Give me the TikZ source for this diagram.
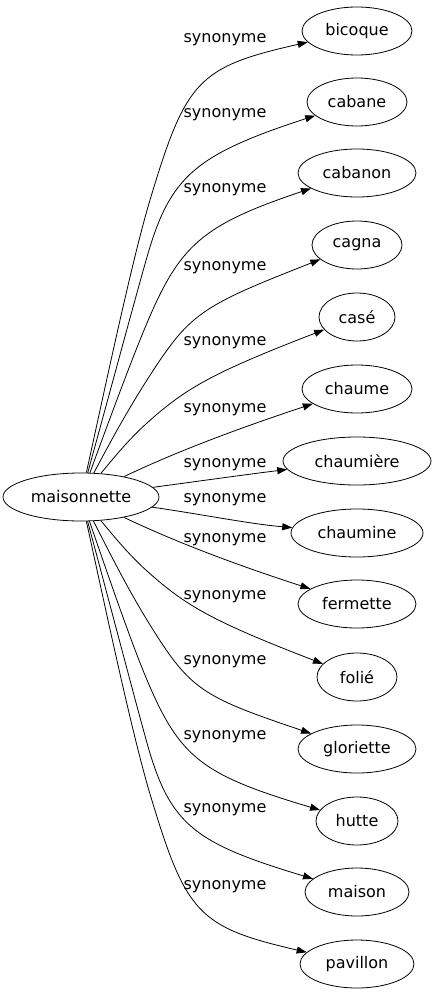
\documentclass[tikz,border=0pt]{standalone}
\usepackage{fontspec}
\setmainfont{DejaVu Sans}
\usetikzlibrary{shapes.geometric,arrows.meta}
\begin{document}
\begin{tikzpicture}[x=1pt,y=-1pt,
  word/.style={draw,ellipse,inner sep=0pt,minimum height=48pt,line width=0.8pt,font=\fontsize{16}{19}\selectfont},
  lab/.style={inner sep=0pt,font=\fontsize{16}{19}\selectfont},
  edge/.style={line width=0.8pt,-{Triangle[length=10pt,width=7pt]}}]
\useasboundingbox (0,0) rectangle (436,995);
\node[word,minimum width=156pt] (m) at (81,497) {maisonnette};
\node[word,minimum width=110pt] (t1) at (357,31) {bicoque};
\node[word,minimum width=100pt] (t2) at (357,102) {cabane};
\node[word,minimum width=118pt] (t3) at (357,173) {cabanon};
\node[word,minimum width=90pt] (t4) at (357,245) {cagna};
\node[word,minimum width=76pt] (t5) at (357,317) {casé};
\node[word,minimum width=110pt] (t6) at (357,389) {chaume};
\node[word,minimum width=148pt] (t7) at (357,461) {chaumière};
\node[word,minimum width=132pt] (t8) at (357,533) {chaumine};
\node[word,minimum width=118pt] (t9) at (357,604) {fermette};
\node[word,minimum width=80pt] (t10) at (357,677) {folié};
\node[word,minimum width=118pt] (t11) at (357,749) {gloriette};
\node[word,minimum width=82pt] (t12) at (357,821) {hutte};
\node[word,minimum width=104pt] (t13) at (357,892) {maison};
\node[word,minimum width=114pt] (t14) at (357,964) {pavillon};
\node[lab] (l1) at (225,40) {synonyme};
\node[lab] (l2) at (225,115) {synonyme};
\node[lab] (l3) at (225,190) {synonyme};
\node[lab] (l4) at (225,268) {synonyme};
\node[lab] (l5) at (225,343) {synonyme};
\node[lab] (l6) at (225,410) {synonyme};
\node[lab] (l7) at (225,465) {synonyme};
\node[lab] (l8) at (225,500) {synonyme};
\node[lab] (l9) at (225,540) {synonyme};
\node[lab] (l10) at (225,597) {synonyme};
\node[lab] (l11) at (225,662) {synonyme};
\node[lab] (l12) at (225,737) {synonyme};
\node[lab] (l13) at (225,810) {synonyme};
\node[lab] (l14) at (225,887) {synonyme};
\coordinate (k1) at (150,200);
\coordinate (k2) at (147,257);
\coordinate (k3) at (147,323);
\coordinate (k4) at (147,380);
\coordinate (k5) at (147,423);
\coordinate (k10) at (147,571);
\coordinate (k11) at (147,620);
\coordinate (k12) at (147,680);
\coordinate (k13) at (147,743);
\coordinate (k14) at (150,794);
\draw[edge] (m) .. controls (105,388) and (132,260) .. (k1) .. controls (186,80) and (198,67) .. (t1);
\draw[edge] (m) .. controls (107,403) and (135.5,297) .. (k2) .. controls (170,177) and (194,155) .. (t2);
\draw[edge] (m) .. controls (106,429) and (130.5,362) .. (k3) .. controls (180,245) and (202,225) .. (t3);
\draw[edge] (m) .. controls (106.6,449) and (125.5,413.5) .. (k4) .. controls (190,313) and (199,307) .. (t4);
\draw[edge] (m) .. controls (111.6,460.6) and (127.5,440.5) .. (k5) .. controls (186,388) and (212,373) .. (t5);
\draw[edge] (m) .. controls (180,450) and (240,428) .. (t6);
\draw[edge] (m) .. controls (200,481) and (250,474) .. (t7);
\draw[edge] (m) .. controls (200,514) and (250,524) .. (t8);
\draw[edge] (m) .. controls (180,544) and (240,566) .. (t9);
\draw[edge] (m) .. controls (111.6,533.4) and (127.5,553.5) .. (k10) .. controls (186,606) and (212,621) .. (t10);
\draw[edge] (m) .. controls (106.6,546.6) and (125.5,585) .. (k11) .. controls (190,690) and (200,696) .. (t11);
\draw[edge] (m) .. controls (106,569) and (130.5,641) .. (k12) .. controls (180,758) and (202,775) .. (t12);
\draw[edge] (m) .. controls (107,593) and (135.5,702) .. (k13) .. controls (170,825) and (194,843) .. (t13);
\draw[edge] (m) .. controls (105,606) and (132,734) .. (k14) .. controls (186,914) and (198,927) .. (t14);
\end{tikzpicture}
\end{document}
